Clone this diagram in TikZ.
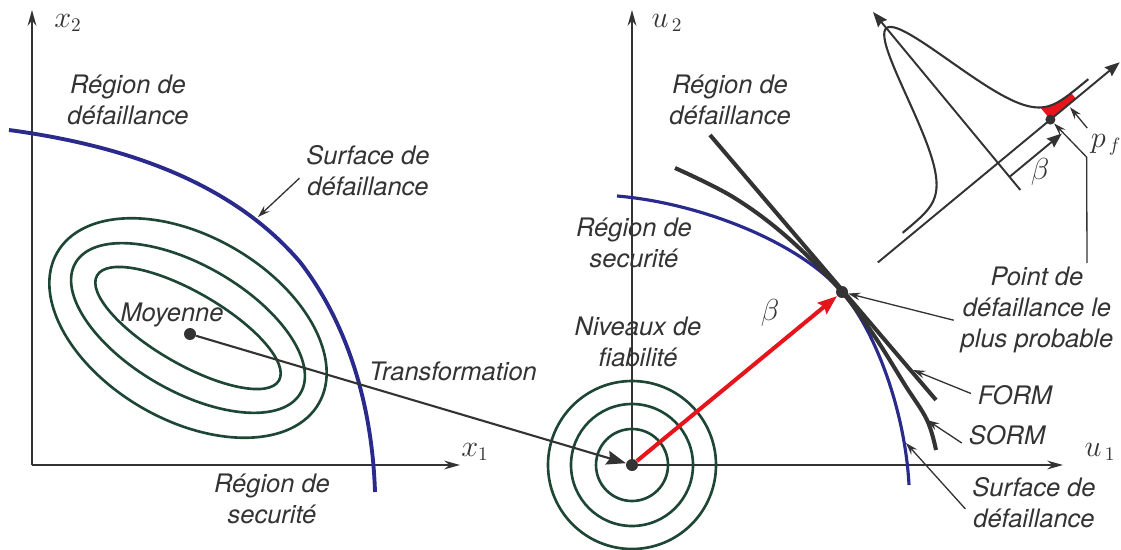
\documentclass[tikz,border=0pt]{standalone}
\usepackage{fontspec}
\setmainfont{TeX Gyre Heros}
\usetikzlibrary{arrows.meta}

\definecolor{ink}{HTML}{333333}
\definecolor{limitblue}{HTML}{2A2A8C}
\definecolor{ringgreen}{HTML}{1E4634}
\definecolor{hotred}{HTML}{E8141C}

\tikzset{
  axis/.style={ink,line width=0.9pt,-{Stealth[length=9pt,width=5pt,inset=3pt]}},
  note/.style={ink,line width=0.75pt,-{Stealth[length=7pt,width=4.5pt,inset=2.5pt]}},
  bigtip/.style={-{Stealth[length=11pt,width=8pt,inset=1.5pt]}},
  smalltip/.style={-{Stealth[length=8.5pt,width=6.5pt,inset=1pt]}},
  txt/.style={ink,font=\fontsize{14.5}{17.5}\selectfont\itshape,align=center,inner sep=0pt,outer sep=4pt},
  sym/.style={ink,font=\fontsize{16}{18}\selectfont,inner sep=0pt},
  dot/.style={circle,fill=ink,inner sep=0pt,minimum size=0.24cm},
  limit/.style={limitblue,line width=2.2pt},
  ring/.style={ringgreen,line width=1.5pt},
  approx/.style={ink,line width=2.3pt},
}

\begin{document}
\begin{tikzpicture}[x=0.02cm,y=-0.02cm]
\useasboundingbox (0,0) rectangle (1121,550);
\coordinate (C) at (188,328);
\coordinate (X0) at (32,465);
\coordinate (U0) at (632,465);

% physical space
\draw[axis] (X0) -- (460,465);
\draw[axis] (X0) -- (32,10);
\foreach \a/\b in {151/92,130/63,105/36}
  \draw[ring,rotate around={-30:(C)}] (C) ellipse [x radius=\a,y radius=\b];
\draw[limit] (9,130) .. controls (120,145) and (230,180) .. (300,262)
  .. controls (345,320) and (372,400) .. (375,492);
\coordinate (s1) at (258,217);

% standard space
\draw[axis] (U0) -- (1063,465);
\draw[axis] (U0) -- (632,10);
\foreach \r in {84,61,36}
  \draw[ring] (U0) circle (\r);
\draw[limit,line width=1.8pt] (617,196) .. controls (700,203) and (799,242) .. (842,292)
  .. controls (875,330) and (905,410) .. (909,485);
\draw[approx] (710,135) -- (936,400);
\draw[approx] plot[smooth,tension=0.6] coordinates {(675,168) (733,197) (787,237) (842,292) (875,337) (905,385) (927,420) (936,450)};
\coordinate (f1) at (913,370);
\coordinate (g1) at (927,420);
\coordinate (s2) at (906,443);

\node[dot] (mean) at (190,334) {};
\node[dot] (orig) at (U0) {};
\node[dot] (mpp) at (842,292) {};
\draw[ink,line width=1.2pt,bigtip] (mean) -- (orig);
\draw[hotred,line width=2.3pt,bigtip] (orig) -- (mpp);

% labels
\node[sym] (x2lab) at (68,23) {$x_2$};
\node[sym] (x1lab) at (475,452) {$x_1$};
\node[sym] (u2lab) at (667,23) {$u_{\,2}$};
\node[sym] (u1lab) at (1100,452) {$u_{\,1}$};
\node[txt] (failL) at (128,100) {Région de\\défaillance};
\node[txt] (surfL) at (368,171) {Surface de\\défaillance};
\node[txt] (meanlab) at (172,315) {Moyenne};
\node[txt] (trans) at (453,371) {Transformation};
\node[txt] (safeL) at (272,499) {Région de\\securité};
\node[txt] (failR) at (730,100) {Région de\\défaillance};
\node[txt] (safeR) at (634,243) {Région de\\securité};
\node[txt] (levels) at (638,342) {Niveaux de\\fiabilité};
\node[sym,font=\fontsize{17}{18}\selectfont] (beta) at (770,313) {$\beta$};
\node[txt] (mppl) at (1037,310) {Point de\\défaillance le\\plus probable};
\node[txt] (form) at (1015,395) {FORM};
\node[txt] (sorm) at (1007,435) {SORM};
\node[txt] (surfR) at (1034,503) {Surface de\\défaillance};

\draw[note] (surfL.186) -- (s1);
\draw[note] (mppl.187) -- (mpp);
\draw[note] (form.178) -- (f1);
\draw[note] (sorm.190) -- (g1);
\draw[note] (surfR.185) -- (s2);

% inset: density along the beta direction
\begin{scope}[shift={(998,163)},x={(0.01541cm,0.01275cm)},y={(-0.01275cm,0.01541cm)}]
  \fill[hotred] plot[domain=68:101,samples=20] (\x,{168*exp(-(\x)^2/1568)+7}) -- (101,0) -- (68,0) -- cycle;
  \draw[ink,line width=1.1pt,smalltip] (-156,0) -- (158,0);
  \draw[ink,line width=1.1pt,smalltip] (0,-35) -- (0,196);
  \draw[ink,line width=1.2pt] plot[domain=-118:123,samples=121,smooth] (\x,{168*exp(-(\x)^2/1568)+7});
  \draw[ink,line width=1.1pt,smalltip] (0,-18) -- (68,-18);
  \node[dot,minimum size=0.2cm] (pt) at (68,0) {};
  \coordinate (bend) at (72,-52);
  \coordinate (pfa) at (91,-30);
  \coordinate (pfb) at (91,-3);
\end{scope}
\coordinate (foot) at (1087,263);
\draw[note] (foot) -- (bend) -- (pt);
\draw[note] (pfa) -- (pfb);
\node[sym] (pf) at (1106,145) {$p_{\,f}$};
\node[sym,font=\fontsize{17}{18}\selectfont] (beta2) at (1040,172) {$\beta$};
\end{tikzpicture}
\end{document}
